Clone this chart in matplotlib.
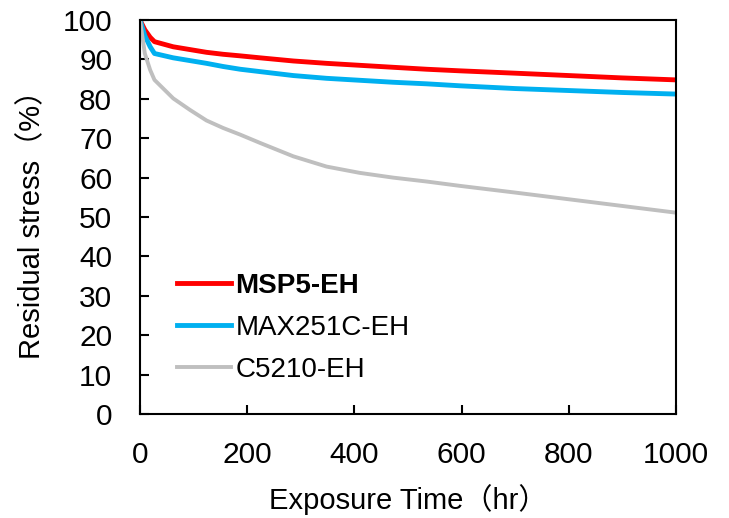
import matplotlib
matplotlib.use("Agg")
from matplotlib import pyplot as plt

plt.rcParams['font.family'] = ['Liberation Sans', 'Noto Sans CJK JP', 'DejaVu Sans']

# data
t_hr = [0, 9, 19, 27, 62, 93, 124, 155, 187, 224, 286, 348, 410, 472, 535, 597, 700, 800, 900, 1000]
msp5 = [100, 97.5, 95.6, 94.5, 93.2, 92.5, 91.8, 91.3, 90.9, 90.4, 89.6, 89.0, 88.5, 88.0, 87.5, 87.1, 86.5, 85.9, 85.3, 84.8]
max251c = [100, 96.0, 93.2, 91.5, 90.4, 89.7, 89.0, 88.2, 87.5, 86.9, 85.9, 85.2, 84.7, 84.2, 83.8, 83.3, 82.6, 82.1, 81.6, 81.2]
c5210 = [100, 91.5, 87.3, 84.8, 80.1, 77.2, 74.5, 72.6, 70.9, 68.8, 65.4, 62.8, 61.2, 60.0, 59.0, 57.9, 56.2, 54.5, 52.8, 51.1]

labels = ['MSP5-EH', 'MAX251C-EH', 'C5210-EH']
colors = ['#FF0000', '#00B0F0', '#BFBFBF']

fig = plt.figure(figsize=(7.29, 5.18), dpi=100)
ax = fig.add_axes([140/729, 1-414/518, 536/729, 394/518])

ax.plot(t_hr, msp5, color=colors[0], lw=3.5, label=labels[0])
ax.plot(t_hr, max251c, color=colors[1], lw=3.5, label=labels[1])
ax.plot(t_hr, c5210, color=colors[2], lw=2.8, label=labels[2])

ax.set_xlim(0, 1000)
ax.set_ylim(0, 100)
ax.set_xticks(range(0, 1001, 200))
ax.set_yticks(range(0, 101, 10))
ax.tick_params(direction='in', length=6.5, width=1.5, labelsize=21.5,
               top=False, right=False)
ax.tick_params(axis='x', pad=19.5)
ax.tick_params(axis='y', pad=20)
for s in ax.spines.values():
    s.set_linewidth(1.5)

ax.set_xlabel('Exposure Time（hr）', fontsize=21, labelpad=11)
ax.set_ylabel('Residual stress（%）', fontsize=21, labelpad=12)

leg = ax.legend(loc='upper left', bbox_to_anchor=(177/729, 1-273/518),
                bbox_transform=fig.transFigure, frameon=False, fontsize=20,
                handlelength=1.95, handletextpad=0.15, labelspacing=0.58,
                borderpad=0, borderaxespad=0)
leg.get_texts()[0].set_fontweight('bold')

fig.savefig('out.png', dpi=100)
